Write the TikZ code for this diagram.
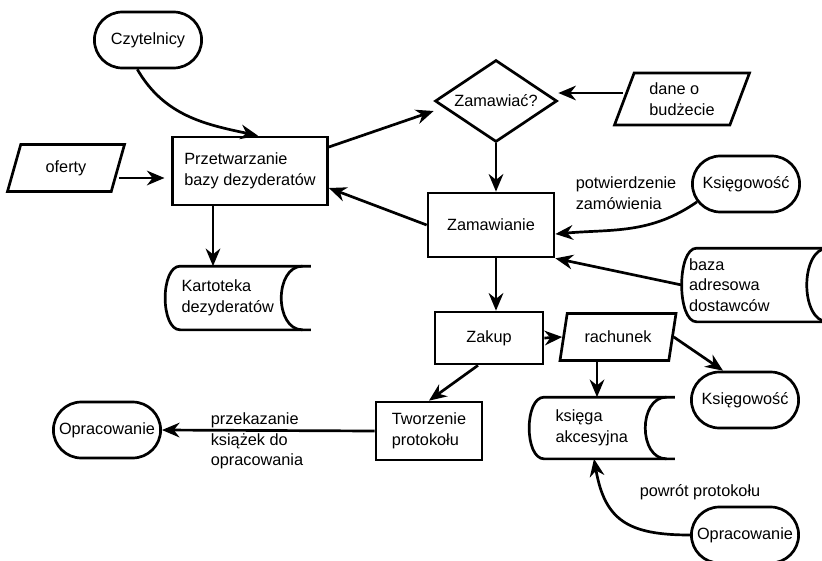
\documentclass[tikz,border=0pt]{standalone}
\usepackage{fontspec}
\setmainfont{Liberation Sans}
\usetikzlibrary{shapes.geometric,shapes.misc,arrows.meta}

% stored data outline round an (undrawn) node
\newcommand{\storedata}[1]{%
  \draw[line width=2.3pt,line join=round] (#1.north east) -- ([xshift=0.45cm]#1.north west)
    .. controls +(-0.6cm,0) and +(-0.6cm,0) .. ([xshift=0.45cm]#1.south west) -- (#1.south east);
  \draw[line width=2.3pt] ([xshift=-0.25cm]#1.north east)
    .. controls +(-0.85cm,0) and +(-0.85cm,0) .. ([xshift=-0.25cm]#1.south east);}

\begin{document}
\begin{tikzpicture}[x=0.03cm,y=-0.03cm,
  every node/.style={font=\fontsize{13.9}{17.5}\selectfont,line width=2.3pt},
  term/.style={draw,rounded rectangle,minimum width=3.45cm,minimum height=1.68cm},
  proc/.style={draw,rectangle,align=left},
  dec/.style={draw,diamond,aspect=1.5,minimum width=3.66cm,minimum height=2.46cm,inner sep=0pt},
  io/.style={draw,trapezium,trapezium left angle=62,trapezium right angle=118,
    trapezium stretches body,align=left},
  store/.style={rectangle,align=left},
  arr/.style={-{Stealth[length=15pt,width=12.5pt]},line width=2.3pt}]
\useasboundingbox (0,0) rectangle (822,560);

\node[term](czyt) at (148,40) {Czytelnicy};
\node[proc,minimum width=4.65cm,minimum height=2.04cm](przetw) at (250,171) {Przetwarzanie\\bazy dezyderatów};
\node[io,minimum width=3.51cm,minimum height=1.41cm,trapezium left angle=60,trapezium right angle=120](oferty) at (66,168) {oferty};
\node[store,minimum width=4.29cm,minimum height=1.83cm,inner xsep=0.45cm,text width=3.39cm](kart) at (238,298) {Kartoteka\\dezyderatów};
\node[dec](zamq) at (496,101) {Zamawiać?};
\node[io,minimum width=4.05cm,minimum height=1.56cm,trapezium left angle=64,trapezium right angle=116](dane) at (682,99) {dane o\\budżecie};
\node[proc,minimum width=3.78cm,minimum height=1.92cm](zam) at (491,225) {Zamawianie};
\node[term](ksieg1) at (746,184) {Księgowość};
\node[store,minimum width=4.56cm,minimum height=2.13cm,inner xsep=0.18cm,text width=4.2cm](baza) at (759,285) {baza\\adresowa\\dostawców};
\node[proc,minimum width=3.24cm,minimum height=1.56cm](zakup) at (489,338) {Zakup};
\node[io,minimum width=3.48cm,minimum height=1.41cm,trapezium left angle=70,trapezium right angle=110](rach) at (618,337) {rachunek};
\node[term](ksieg2) at (745,400) {Księgowość};
\node[proc,minimum width=3.18cm,minimum height=1.74cm](tworz) at (429,431) {Tworzenie\\protokołu};
\node[store,minimum width=4.29cm,minimum height=1.77cm,inner xsep=0.75cm,text width=2.79cm](ksiega) at (602,428) {księga\\akcesyjna};
\node[term](oprac1) at (107,430) {Opracowanie};
\node[term](oprac2) at (745,535) {Opracowanie};

\node[align=left](potw) at (626,193) {potwierdzenie\\zamówienia};
\node[align=left](przek) at (257,441) {przekazanie\\książek do\\opracowania};
\node(powrot) at (700,492) {powrót protokołu};

\storedata{kart}
\storedata{baza}
\storedata{ksiega}

\coordinate (rtap) at ([xshift=-0.63cm]rach.center);

\draw[arr] (czyt.250) to[out=-60,in=168] ([xshift=0.24cm]przetw.north);
\draw[arr,shorten >=0.2cm] ([yshift=-0.3cm]oferty.east) -- ([yshift=-0.3cm]oferty.east -| przetw.west);
\draw[arr] ([yshift=0.72cm]przetw.east) -- ([yshift=-0.3cm]zamq.west);
\draw[arr] (zam.west) -- ([yshift=-0.51cm]przetw.east);
\draw[arr] ([xshift=-1.11cm]przetw.south) -- ([xshift=-1.11cm]przetw.south |- kart.north);
\draw[arr] ([yshift=0.18cm]dane.west) -- ([yshift=0.18cm]dane.west -| zamq.east);
\draw[arr] (zamq.south) -- (zamq.south |- zam.north);
\draw[arr] (ksieg1.200) to[out=-145,in=5] ([yshift=-0.27cm]zam.east);
\draw[arr] (baza.west) -- (zam.south east);
\draw[arr] (zamq.south |- zam.south) -- (zamq.south |- zakup.north);
\draw[arr] (zakup.east) -- (rach.west);
\draw[arr] (rach.east) -- ([xshift=-0.66cm]ksieg2.north);
\draw[arr] (rtap |- rach.south) -- (rtap |- ksiega.north);
\draw[arr] ([xshift=-0.33cm]zakup.south) -- (tworz.north);
\draw[arr] (tworz.west) -- (oprac1.east);
\draw[arr] (oprac2.west) to[out=180,in=-80,looseness=1.3] ([xshift=-0.24cm]ksiega.south);
\end{tikzpicture}
\end{document}
